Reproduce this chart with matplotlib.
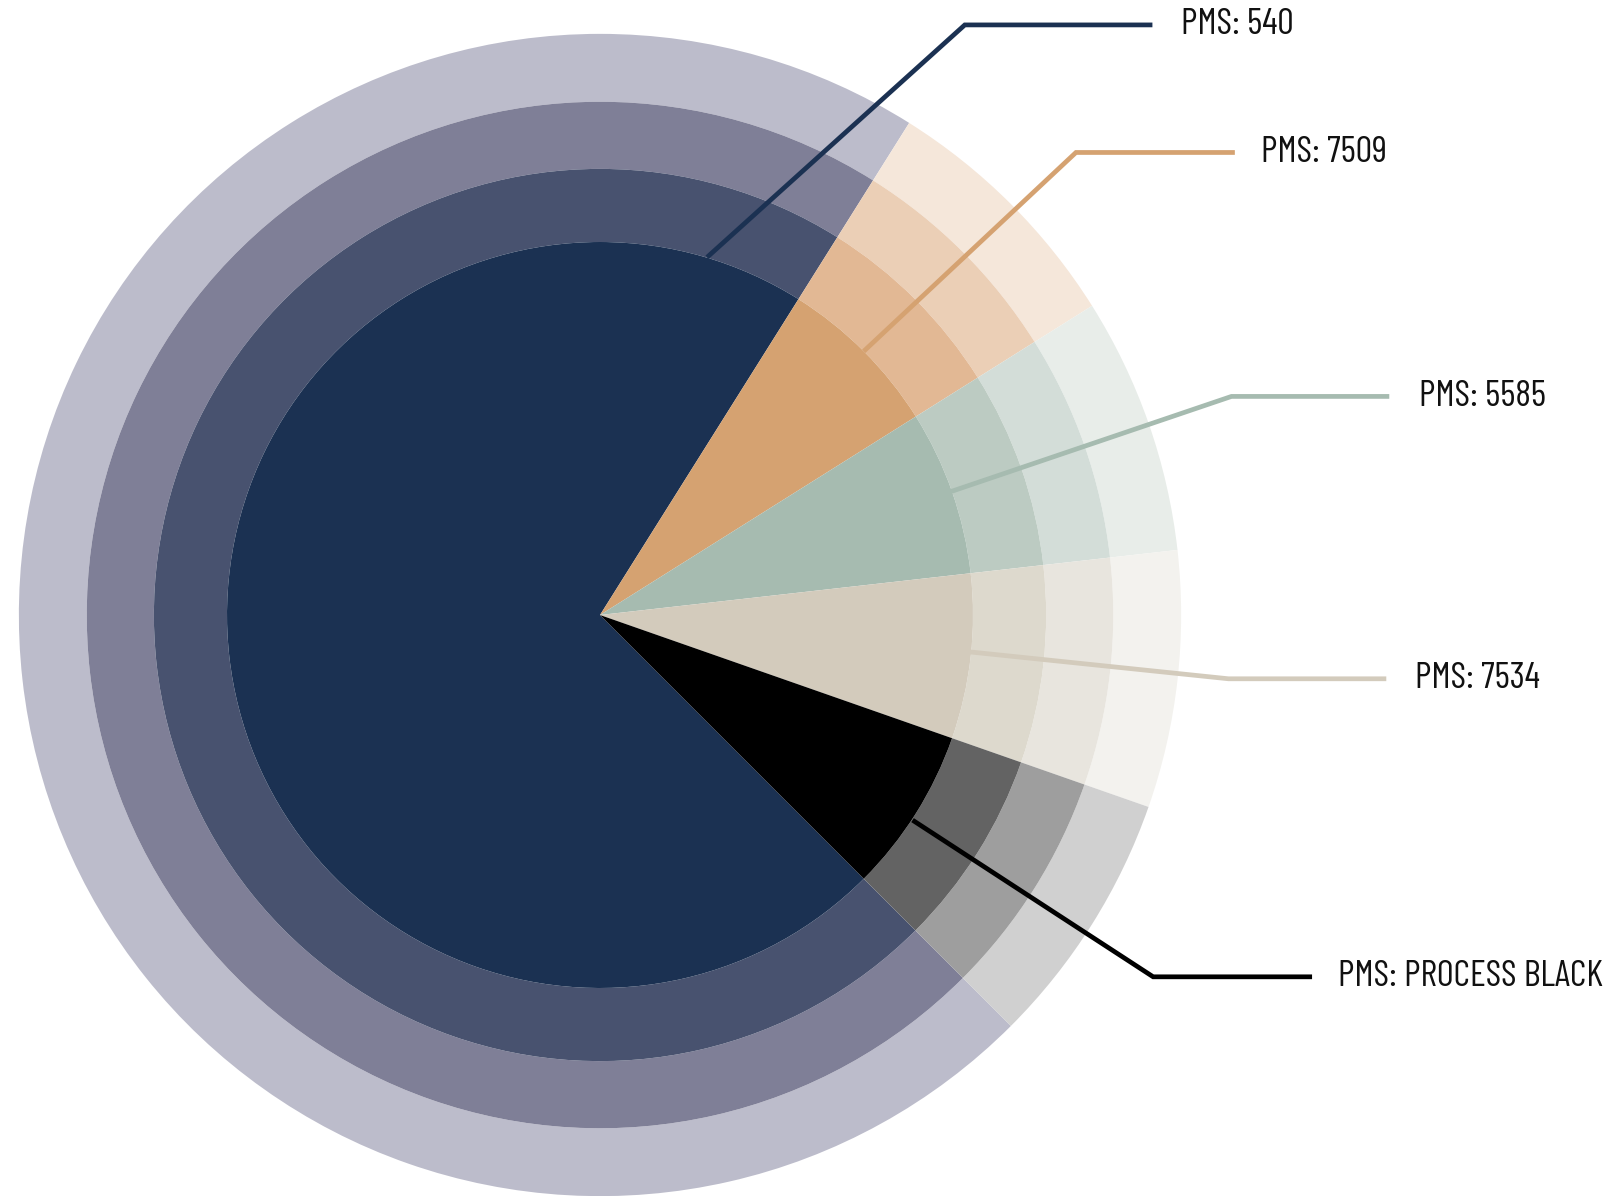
import matplotlib.pyplot as plt

labels = ['PMS: 540', 'PMS: 7509', 'PMS: 5585', 'PMS: 7534', 'PMS: PROCESS BLACK']
values = [100, 10, 10, 10, 10]

# one colour list per ring, inner (solid) to outer (palest)
ring_colors = [
    ['#1b3152', '#d5a271', '#a6bbb0', '#d3cbbc', '#000000'],
    ['#48526f', '#e2b894', '#bccbc2', '#ddd9cd', '#636363'],
    ['#7f7f97', '#ebcfb6', '#d3ddd8', '#e8e5de', '#9e9e9e'],
    ['#bcbccb', '#f5e7da', '#e8ede9', '#f3f2ee', '#d0d0d0'],
]
ring_radius = [1.0, 1.196, 1.376, 1.558]
line_colors = ['#1b3152', '#d5a271', '#a6bbb0', '#d3cbbc', '#000000']

fig = plt.figure(figsize=(16.18, 11.96), dpi=100)
ax = fig.add_axes([0, 0, 1, 1])

# outer rings first, then the solid pie on top
for i in range(3, -1, -1):
    r = ring_radius[i]
    w = r - ring_radius[i - 1] if i > 0 else r
    ax.pie(values, radius=r, colors=ring_colors[i], startangle=-45, counterclock=False,
           wedgeprops=dict(width=w, linewidth=0))

# leader lines: anchor (on inner circle), elbow, end of horizontal, text x
leaders = [
    ((0.287, 0.959), (0.978, 1.582), 1.481, 1.558),
    ((0.707, 0.707), (1.276, 1.240), 1.702, 1.773),
    ((0.941, 0.331), (1.693, 0.586), 2.116, 2.196),
    ((0.992, -0.099), (1.685, -0.171), 2.108, 2.185),
    ((0.838, -0.550), (1.483, -0.970), 1.909, 1.978),
]
for k, (a, e, xend, xt) in enumerate(leaders):
    ax.plot([a[0], e[0], xend], [a[1], e[1], e[1]], color=line_colors[k], lw=3.4,
            solid_joinstyle='miter', solid_capstyle='butt')
    ax.text(xt, e[1], labels[k], fontsize=26.5, family=['Barlow Condensed', 'DejaVu Sans'],
            weight=400, color='#111111', va='center', ha='left')

cx, cy, rpx = 600, 615, 373
ax.set_xlim(-cx / rpx, (1618 - cx) / rpx)
ax.set_ylim((cy - 1196) / rpx, cy / rpx)
ax.set_aspect('equal')
ax.axis('off')

fig.savefig('out.png', dpi=100, facecolor='white')
